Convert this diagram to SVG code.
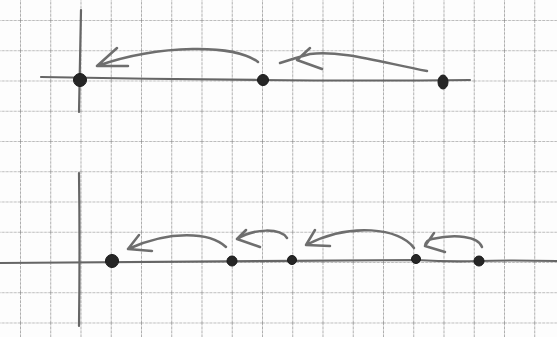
<svg xmlns="http://www.w3.org/2000/svg" width="557" height="337" viewBox="0 0 557 337">
  <defs>
    <pattern id="grid" x="20" y="20" width="30.25" height="30.25" patternUnits="userSpaceOnUse">
      <path d="M0,0 V30.25 M0,0 H30.25" fill="none" stroke="#7a7a7a" stroke-width="1.2" stroke-dasharray="3 1"/>
    </pattern>
  </defs>
  <style>
    .axis { fill: none; stroke: #666; stroke-width: 2.2; stroke-linecap: round; }
    .arrow { fill: none; stroke: #6e6e6e; stroke-width: 2.5; stroke-linecap: round; stroke-linejoin: round; }
    .dot { fill: #262626; stroke: #1a1a1a; stroke-width: 1; }
  </style>
  <rect width="557" height="337" fill="#fdfdfd"/>
  <rect width="557" height="337" fill="url(#grid)"/>

  <g id="axes">
    <path class="axis" d="M41,77 Q150,79 260,80 T470,80"/>
    <path class="axis" d="M81,10 Q80,60 79,112"/>
    <path class="axis" d="M0,263 Q200,262 416,260 Q450,262 479,261 T557,261"/>
    <path class="axis" d="M79,173 Q80,250 79,326"/>
  </g>

  <g id="connectors">
    <path class="arrow" d="M258,62 C235,44 160,44 97,66 M97,66 L117,48 M97,66 L128,66"/>
    <path class="arrow" d="M427,71 C380,62 340,50 310,54 Q295,58 280,63 M297,60 L310,48 M297,60 L322,69"/>
    <path class="arrow" d="M226,247 C210,232 170,230 128,249 M128,249 L139,235 M128,249 L152,251"/>
    <path class="arrow" d="M287,238 C280,228 255,228 237,239 M237,239 L246,230 M237,239 L260,247"/>
    <path class="arrow" d="M414,248 C400,228 350,222 306,245 M306,245 L315,230 M306,245 L330,246"/>
    <path class="arrow" d="M482,247 C478,236 455,234 432,239 M425,246 L434,233 M425,246 L445,252 M425,246 Q426,240 432,239"/>
  </g>

  <g id="n1"><circle class="dot" cx="80" cy="80" r="6.5"/></g>
  <g id="n2"><circle class="dot" cx="263" cy="80" r="5.5"/></g>
  <g id="n3"><ellipse class="dot" cx="443" cy="82" rx="5" ry="7"/></g>
  <g id="n4"><circle class="dot" cx="112" cy="261" r="6.5"/></g>
  <g id="n5"><circle class="dot" cx="232" cy="261" r="5"/></g>
  <g id="n6"><circle class="dot" cx="292" cy="260" r="4.5"/></g>
  <g id="n7"><circle class="dot" cx="416" cy="259" r="4.5"/></g>
  <g id="n8"><circle class="dot" cx="479" cy="261" r="5"/></g>
</svg>
